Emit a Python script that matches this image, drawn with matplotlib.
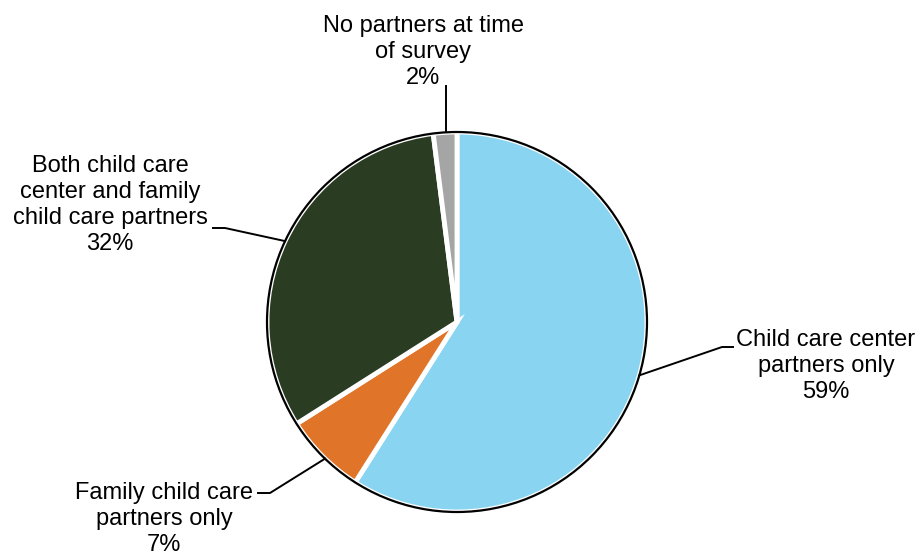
import numpy as np
import matplotlib
matplotlib.use("Agg")
import matplotlib.pyplot as plt
from matplotlib.patches import Circle

plt.rcParams['font.family'] = ['Liberation Sans', 'DejaVu Sans']

categories = [
    "Child care center\npartners only",
    "Family child care\npartners only",
    "Both child care\ncenter and family\nchild care partners",
    "No partners at time\nof survey",
]
shares = [59, 7, 32, 2]
colors = ["#89D4F1", "#E0752A", "#2A3C21", "#A5A5A5"]

W, H = 922, 555
fig = plt.figure(figsize=(W / 100, H / 100), dpi=100)
ax = fig.add_axes([0, 0, 1, 1])

cx, cy, r = 457, H - 322, 190
wedges, _ = ax.pie(shares, colors=colors, startangle=90, counterclock=False,
                   center=(cx, cy), radius=r, frame=True,
                   wedgeprops=dict(edgecolor='white', linewidth=3.5))
ax.set_xlim(0, W)
ax.set_ylim(0, H)
ax.set_aspect('equal')
ax.axis('off')
ax.add_patch(Circle((cx, cy), r, fill=False, edgecolor='black', linewidth=1.6, zorder=5))

# label text positions, leader elbow and angle on the rim for each slice
label_pos = [(826, H - 366), (164, H - 519), (110, H - 205), (423, H - 52)]
elbows = [[(733, H - 347), (722, H - 347)],
          [(258, H - 493), (270, H - 493)],
          [(213, H - 228), (225, H - 228)],
          [(446, H - 86)]]
rim_angles = [-16.3, -134.0, 154.8, 93.5]

def rim_point(theta_deg):
    t = np.deg2rad(theta_deg)
    return cx + r * np.cos(t), cy + r * np.sin(t)

for cat, val, (tx, ty), elbow, ang in zip(categories, shares, label_pos, elbows, rim_angles):
    ax.text(tx, ty, f"{cat}\n{val}%", ha='center', va='center', fontsize=17,
            color='black', linespacing=1.25)
    px, py = rim_point(ang)
    pts = elbow + [(px, py)]
    if len(elbow) == 1:
        pts = [elbow[0], (elbow[0][0], py)]
    xs, ys = zip(*pts)
    ax.plot(xs, ys, color='black', linewidth=1.4, zorder=6)

fig.savefig("out.png", dpi=100)
